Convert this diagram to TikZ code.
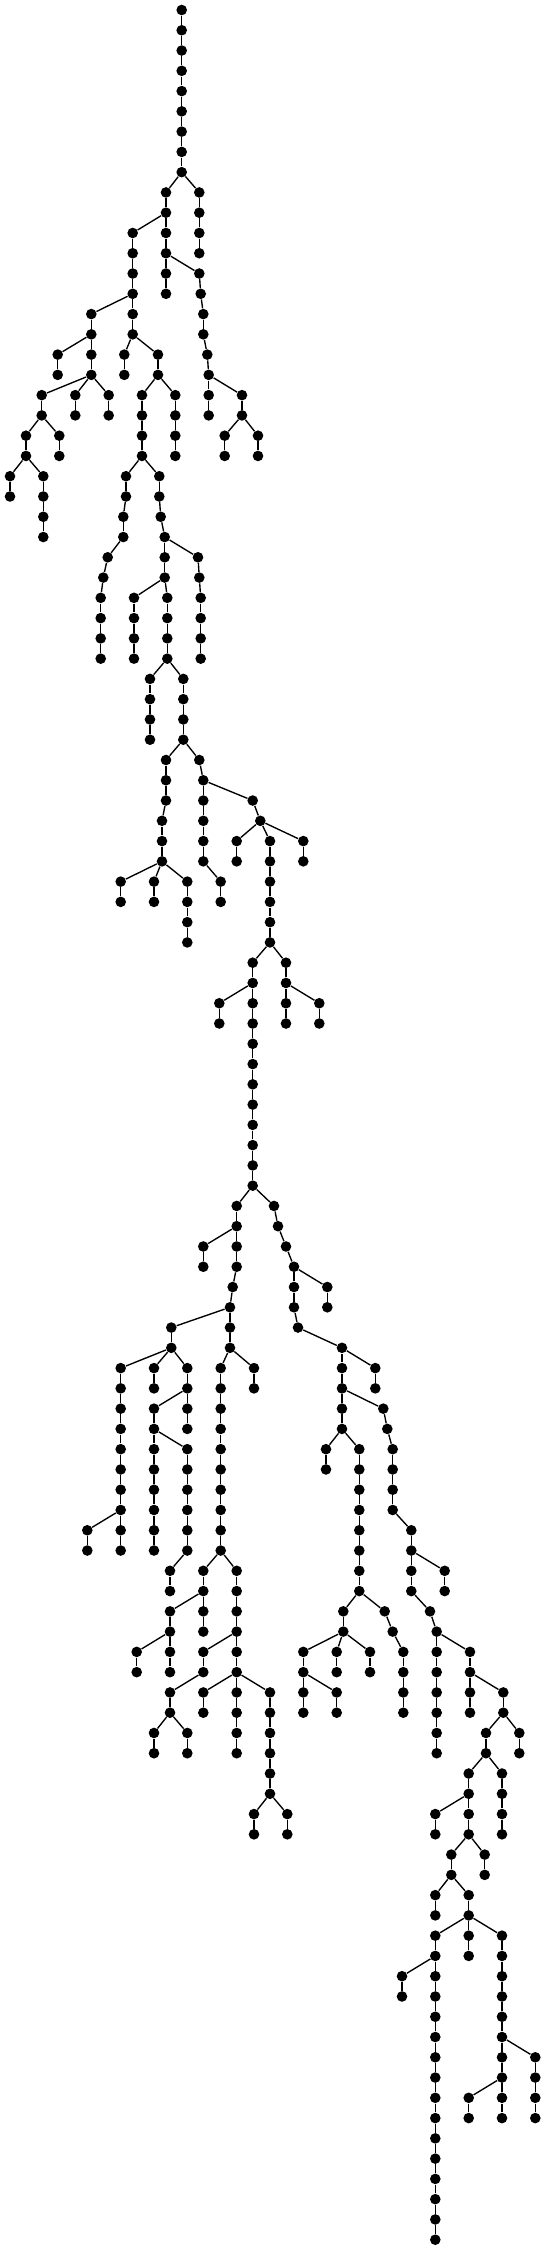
\documentclass[tikz,border=0pt]{standalone}
\tikzset{
  dot/.style={circle,fill=black,draw=none,inner sep=0pt,minimum size=5.3pt},
  edge/.style={draw=black,line width=0.68pt}
}
\newcommand\mkN[4]{\node[dot] (#1) at (#2,{-10-20.27*#3}) {}; \draw[edge] (#4) -- (#1);}
\newcommand\mkC[5]{%
  \foreach \i in {#3,...,#4}{%
    \pgfmathtruncatemacro\j{\i-1}%
    \node[dot] (#1\i) at (#2,{-10-20.27*\i}) {};%
    \ifnum\i=#3\relax \draw[edge] (#5) -- (#1\i);\else \draw[edge] (#1\j) -- (#1\i);\fi
  }}
\begin{document}
\begin{tikzpicture}[x=0.5pt,y=0.5pt]
\useasboundingbox (0,0) rectangle (546,-2250);
\node[dot] (r0) at (181.7,-10) {};
\mkC{r}{181.7}{1}{8}{r0}
\mkN{A9}{166}{9}{r8} \mkN{B9}{199.3}{9}{r8}
\mkN{A10}{166}{10}{A9} \mkC{B}{199.3}{10}{12}{B9}
\mkN{C11}{132.7}{11}{A10} \mkN{A11}{166}{11}{A10}
\mkN{A12}{166}{12}{A11}
\mkC{C}{132.7}{12}{14}{C11}
\mkN{A13}{166}{13}{A12} \mkN{A14}{166}{14}{A13}
\mkN{D13}{199.3}{13}{A12} \mkN{D14}{200.7}{14}{D13} \mkN{D15}{203.3}{15}{D14} \mkN{D16}{203.3}{16}{D15}
\mkN{D17}{207.3}{17}{D16} \mkN{D18}{208.7}{18}{D17} \mkN{D19}{208.7}{19}{D18} \mkN{D20}{208.7}{20}{D19}
\mkN{E15}{91.3}{15}{C14} \mkN{E16}{91.3}{16}{E15} \mkN{E17}{91.3}{17}{E16} \mkN{E18}{91.3}{18}{E17}
\mkN{C15}{132.7}{15}{C14} \mkN{C16}{132.7}{16}{C15}
\mkN{F17}{57.7}{17}{E16} \mkN{F18}{57.7}{18}{F17}
\mkN{G17}{124.3}{17}{C16} \mkN{G18}{124.3}{18}{G17}
\mkN{H17}{158}{17}{C16} \mkN{H18}{158}{18}{H17}
\mkN{I19}{41.7}{19}{E18} \mkN{I20}{41.7}{20}{I19}
\mkN{J19}{75.3}{19}{E18} \mkN{J20}{75.3}{20}{J19}
\mkN{K19}{108.7}{19}{E18} \mkN{K20}{108.7}{20}{K19}
\mkN{H19}{142}{19}{H18} \mkC{H}{142}{20}{22}{H19}
\mkN{M19}{175.3}{19}{H18} \mkC{M}{175.3}{20}{22}{M19}
\mkN{N19}{242}{19}{D18} \mkN{N20}{242}{20}{N19}
\mkN{O21}{26}{21}{I20} \mkN{O22}{26}{22}{O21}
\mkN{P21}{59.3}{21}{I20} \mkN{P22}{59.3}{22}{P21}
\mkN{Q21}{224.7}{21}{N20} \mkN{Q22}{224.7}{22}{Q21}
\mkN{R21}{258}{21}{N20} \mkN{R22}{258}{22}{R21}
\mkN{S23}{10}{23}{O22} \mkN{S24}{10}{24}{S23}
\mkN{T23}{43.3}{23}{O22} \mkC{T}{43.3}{24}{26}{T23}
\mkN{U23}{126}{23}{H22} \mkN{U24}{126}{24}{U23} \mkN{U25}{123.3}{25}{U24} \mkN{U26}{123.3}{26}{U25}
\mkN{U27}{107.7}{27}{U26} \mkN{U28}{103.3}{28}{U27} \mkC{U}{100.7}{29}{32}{U28}
\mkN{V23}{159.3}{23}{H22} \mkN{V24}{159.3}{24}{V23} \mkN{V25}{160.7}{25}{V24} \mkN{V26}{164.7}{26}{V25}
\mkN{V27}{164.7}{27}{V26} \mkN{V28}{164.7}{28}{V27} \mkC{V}{167.3}{29}{32}{V28}
\mkN{W27}{198}{27}{V26} \mkN{W28}{199.3}{28}{W27} \mkC{W}{200.7}{29}{32}{W28}
\mkN{X29}{134}{29}{V28} \mkC{X}{134}{30}{32}{X29}
\mkN{Y33}{150}{33}{V32} \mkC{Y}{150}{34}{36}{Y33}
\mkN{Z33}{183.3}{33}{V32} \mkC{Z}{183.3}{34}{36}{Z33}
\mkN{a37}{166}{37}{Z36} \mkC{a}{166}{38}{39}{a37} \mkC{a}{162}{40}{42}{a39}
\mkN{b37}{199.3}{37}{Z36} \mkC{b}{203.3}{38}{42}{b37} \mkC{b}{220.7}{43}{44}{b42}
\mkN{c39}{252.7}{39}{b38} \mkN{c40}{260.3}{40}{c39} \mkC{c}{270}{41}{46}{c40}
\mkN{d41}{236.7}{41}{c40} \mkN{d42}{236.7}{42}{d41}
\mkN{e41}{303.3}{41}{c40} \mkN{e42}{303.3}{42}{e41}
\mkN{f43}{120.7}{43}{a42} \mkN{f44}{120.7}{44}{f43}
\mkN{g43}{154}{43}{a42} \mkN{g44}{154}{44}{g43}
\mkN{h43}{187.3}{43}{a42} \mkC{h}{187.3}{44}{46}{h43}
\mkN{i47}{252.7}{47}{c46} \mkC{i}{252.7}{48}{58}{i47}
\mkN{j47}{286}{47}{c46} \mkC{j}{286}{48}{50}{j47}
\mkN{k49}{219.3}{49}{i48} \mkN{k50}{219.3}{50}{k49}
\mkN{l49}{319.3}{49}{j48} \mkN{l50}{319.3}{50}{l49}
\mkN{m59}{236.7}{59}{i58} \mkC{m}{236.7}{60}{62}{m59} \mkN{m63}{232.7}{63}{m62} \mkC{m}{230}{64}{66}{m63}
\mkN{n59}{274}{59}{i58} \mkN{n60}{278}{60}{n59} \mkN{n61}{286}{61}{n60} \mkC{n}{294}{62}{64}{n61}
\mkN{n65}{298}{65}{n64} \mkC{n}{342}{66}{70}{n65}
\mkN{o61}{203.3}{61}{m60} \mkN{o62}{203.3}{62}{o61}
\mkN{p63}{327.3}{63}{n62} \mkN{p64}{327.3}{64}{p63}
\mkN{q65}{171.3}{65}{m64} \mkN{q66}{171.3}{66}{q65}
\mkN{r67}{120.7}{67}{q66} \mkC{r}{120.7}{68}{76}{r67}
\mkN{s67}{154}{67}{q66} \mkN{s68}{154}{68}{s67}
\mkN{t67}{187.3}{67}{q66} \mkC{t}{187.3}{68}{70}{t67}
\mkN{u67}{220.7}{67}{m66} \mkC{u}{220.7}{68}{76}{u67}
\mkN{w67}{254}{67}{m66} \mkN{w68}{254}{68}{w67}
\mkN{x67}{375.3}{67}{n66} \mkN{x68}{375.3}{68}{x67}
\mkN{y69}{154}{69}{t68} \mkC{y}{154}{70}{76}{y69}
\mkN{z69}{383.3}{69}{n68} \mkN{z70}{387.3}{70}{z69} \mkC{z}{392.7}{71}{74}{z70} \mkC{z}{411.3}{75}{78}{z74}
\mkN{z79}{430}{79}{z78} \mkC{z}{436.7}{80}{86}{z79}
\mkN{A71}{187.3}{71}{y70} \mkC{A}{187.3}{72}{76}{A71}
\mkN{B71}{326}{71}{n70} \mkN{B72}{326}{72}{B71}
\mkN{C71}{359.3}{71}{n70} \mkC{C}{359.3}{72}{78}{C71}
\mkN{D75}{87.3}{75}{r74} \mkN{D76}{87.3}{76}{D75}
\mkN{E77}{170}{77}{A76} \mkN{E78}{170}{78}{E77}
\mkN{F77}{203.3}{77}{u76} \mkC{F}{203.3}{78}{80}{F77}
\mkN{G77}{236.7}{77}{u76} \mkC{G}{236.7}{78}{86}{G77}
\mkN{H77}{444.7}{77}{z76} \mkN{H78}{444.7}{78}{H77}
\mkN{I79}{170}{79}{F78} \mkC{I}{170}{80}{82}{I79}
\mkN{J79}{343.3}{79}{C78} \mkN{J80}{343.3}{80}{J79}
\mkN{K79}{384.7}{79}{C78} \mkN{K80}{392.7}{80}{K79} \mkC{K}{403.3}{81}{84}{K80}
\mkN{L81}{136.7}{81}{I80} \mkN{L82}{136.7}{82}{L81}
\mkN{M81}{203.3}{81}{G80} \mkN{M82}{203.3}{82}{M81}
\mkN{N81}{303.3}{81}{J80} \mkC{N}{303.3}{82}{84}{N81}
\mkN{O81}{336.7}{81}{J80} \mkN{O82}{336.7}{82}{O81}
\mkN{P81}{370}{81}{J80} \mkN{P82}{370}{82}{P81}
\mkN{Q81}{470}{81}{z80} \mkC{Q}{470}{82}{84}{Q81}
\mkN{R83}{170}{83}{M82} \mkN{R84}{170}{84}{R83}
\mkN{S83}{203.3}{83}{G82} \mkN{S84}{203.3}{84}{S83}
\mkN{T83}{270}{83}{G82} \mkC{T}{270}{84}{88}{T83}
\mkN{U83}{336.7}{83}{N82} \mkN{U84}{336.7}{84}{U83}
\mkN{V83}{503.3}{83}{Q82} \mkN{V84}{503.3}{84}{V83}
\mkN{W85}{154}{85}{R84} \mkN{W86}{154}{86}{W85}
\mkN{X85}{187.3}{85}{R84} \mkN{X86}{187.3}{86}{X85}
\mkN{Y85}{486}{85}{V84} \mkN{Y86}{486}{86}{Y85}
\mkN{Z85}{519.3}{85}{V84} \mkN{Z86}{519.3}{86}{Z85}
\mkN{aa87}{468.7}{87}{Y86} \mkC{aa}{468.7}{88}{90}{aa87}
\mkN{ab87}{502}{87}{Y86} \mkC{ab}{502}{88}{90}{ab87}
\mkN{ac89}{254}{89}{T88} \mkN{ac90}{254}{90}{ac89}
\mkN{ad89}{287.3}{89}{T88} \mkN{ad90}{287.3}{90}{ad89}
\mkN{ae89}{435.3}{89}{aa88} \mkN{ae90}{435.3}{90}{ae89}
\mkN{af91}{451.3}{91}{aa90} \mkN{af92}{451.3}{92}{af91}
\mkN{ag91}{484.7}{91}{aa90} \mkN{ag92}{484.7}{92}{ag91}
\mkN{ah93}{435.3}{93}{af92} \mkN{ah94}{435.3}{94}{ah93}
\mkN{ai93}{468.7}{93}{af92} \mkN{ai94}{468.7}{94}{ai93}
\mkN{aj95}{435.3}{95}{ai94} \mkC{aj}{435.3}{96}{110}{aj95}
\mkN{ak95}{468.7}{95}{ai94} \mkN{ak96}{468.7}{96}{ak95}
\mkN{al95}{502}{95}{ai94} \mkC{al}{502}{96}{104}{al95}
\mkN{am97}{402}{97}{aj96} \mkN{am98}{402}{98}{am97}
\mkN{an101}{535.3}{101}{al100} \mkC{an}{535.3}{102}{104}{an101}
\mkN{ao103}{468.7}{103}{al102} \mkN{ao104}{468.7}{104}{ao103}
\end{tikzpicture}
\end{document}
